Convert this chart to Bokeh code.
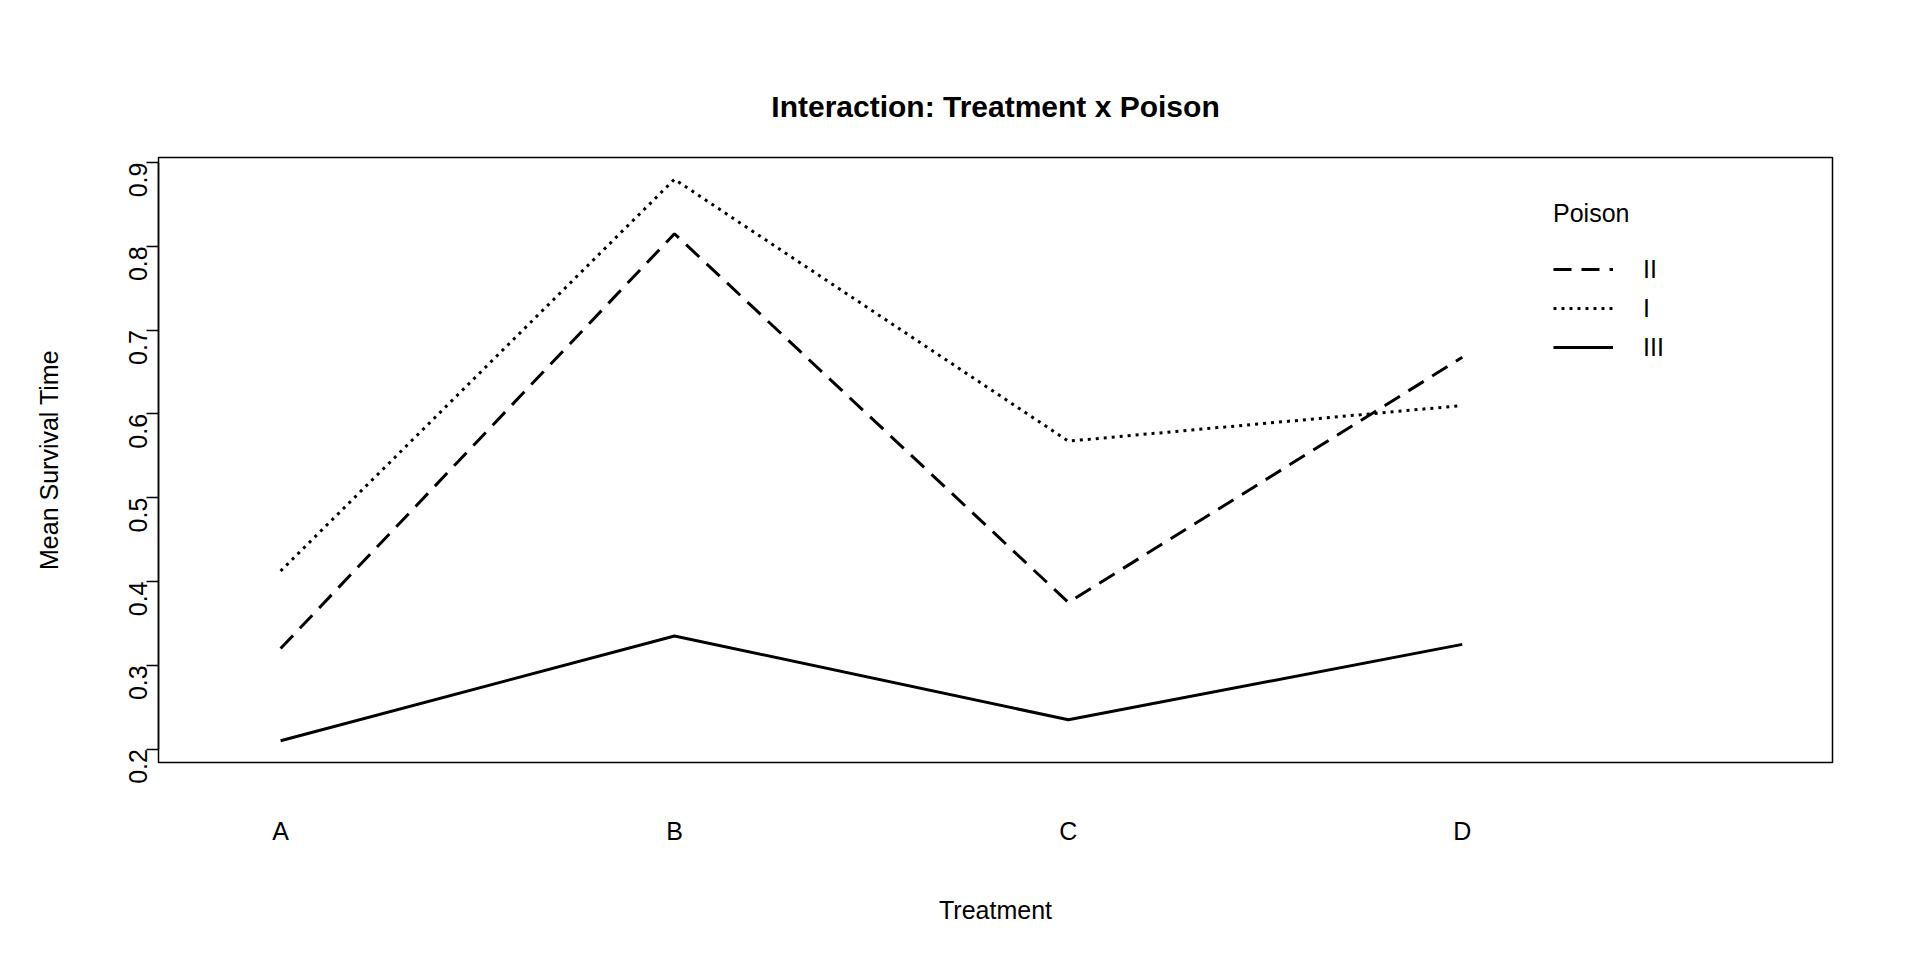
import math
from bokeh.plotting import figure
from bokeh.models import FixedTicker, Legend, LegendItem, Range1d
from bokeh.embed import file_html
from bokeh.resources import INLINE

treatments = ["A", "B", "C", "D"]
x_pos = [1, 2, 3, 4]
poison_II = [0.32, 0.815, 0.375, 0.6675]
poison_I = [0.4125, 0.88, 0.5675, 0.61]
poison_III = [0.21, 0.335, 0.235, 0.325]
y_ticks = [0.2, 0.3, 0.4, 0.5, 0.6, 0.7, 0.8, 0.9]

FONT = "Liberation Sans"
p = figure(width=1904, height=944, output_backend="svg", toolbar_location=None,
           x_range=Range1d(0.69, 4.94), y_range=Range1d(0.184, 0.906),
           min_border_left=158, min_border_right=72, min_border_top=157, min_border_bottom=182)
p.grid.visible = False
p.outline_line_color = "black"
p.outline_line_width = 1.5
p.background_fill_color = "white"
p.border_fill_color = "white"

p.title.text = "Interaction: Treatment x Poison"
p.title.align = "center"
p.title.text_font = FONT
p.title.text_font_size = "30px"
p.title.text_font_style = "bold"
p.title.text_color = "black"
p.title.offset = 0
p.title.standoff = 70

r2 = p.line(x_pos, poison_II, line_color="black", line_width=3, line_dash="18 10")
r1 = p.line(x_pos, poison_I, line_color="black", line_width=3, line_dash="3 5")
r3 = p.line(x_pos, poison_III, line_color="black", line_width=3)

xa = p.xaxis[0]
xa.ticker = FixedTicker(ticks=x_pos)
xa.major_label_overrides = {x: t for x, t in zip(x_pos, treatments)}
xa.axis_line_color = None
xa.major_tick_line_color = None
xa.minor_tick_line_color = None
xa.major_label_standoff = 48
xa.major_label_text_font = FONT
xa.major_label_text_font_size = "25px"
xa.major_label_text_color = "black"
xa.axis_label = "Treatment"
xa.axis_label_text_font = FONT
xa.axis_label_text_font_size = "25px"
xa.axis_label_text_font_style = "normal"
xa.axis_label_text_color = "black"
xa.axis_label_standoff = 48

ya = p.yaxis[0]
ya.ticker = FixedTicker(ticks=y_ticks)
ya.bounds = (0.2, 0.9)
ya.axis_line_color = "black"
ya.axis_line_width = 1.5
ya.major_tick_line_width = 1.5
ya.major_tick_out = 12
ya.major_tick_in = 0
ya.minor_tick_line_color = None
ya.major_label_orientation = math.pi / 2
ya.major_label_standoff = 8
ya.major_label_text_font = FONT
ya.major_label_text_font_size = "25px"
ya.major_label_text_color = "black"
ya.axis_label = "Mean Survival Time"
ya.axis_label_text_font = FONT
ya.axis_label_text_font_size = "25px"
ya.axis_label_text_font_style = "normal"
ya.axis_label_text_color = "black"
ya.axis_label_standoff = 55

legend = Legend(items=[LegendItem(label="II", renderers=[r2]),
                       LegendItem(label="I", renderers=[r1]),
                       LegendItem(label="III", renderers=[r3])],
                location=(1395, 400), title="Poison",
                border_line_color=None, background_fill_alpha=0,
                label_text_font=FONT, label_text_font_size="25px", label_text_color="black",
                title_text_font=FONT, title_text_font_size="25px", title_text_color="black",
                title_text_font_style="normal", title_standoff=26,
                glyph_width=60, glyph_height=30, spacing=9, label_standoff=30)
p.add_layout(legend, "center")

open("out.html", "w").write(file_html(p, INLINE))
